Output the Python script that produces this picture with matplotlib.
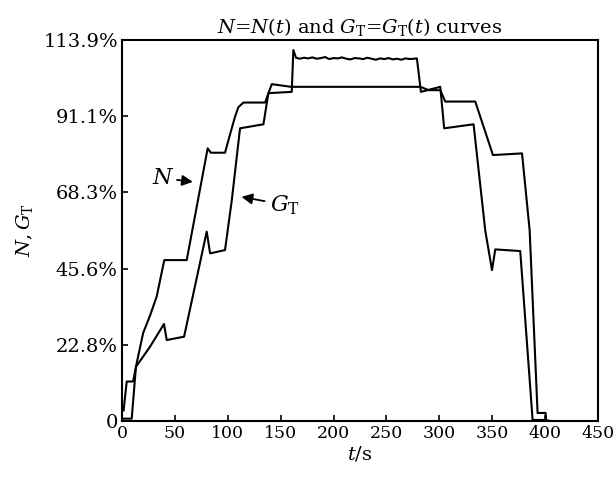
import numpy as np
import matplotlib.pyplot as plt

plt.rcParams["font.family"] = ["DejaVu Serif"]
plt.rcParams["mathtext.fontset"] = "dejavuserif"

# ============================================
# DATA
# ============================================
# N = N(t), rotor speed in %
t_N = [0, 1.5, 4.5, 10.5, 13.9, 20, 26.5, 32.8, 40, 61.2, 81, 84, 97.4, 102,
       106.9, 110, 114.8, 135.3, 141.6, 160, 200, 250, 282, 290, 300.9,
       305.6, 334, 350.7, 378.2, 385.4, 392.9, 400.5, 401, 405]
N = [3.1, 3.1, 11.8, 11.8, 17.3, 26.3, 31.5, 37.2, 48.1, 48.1, 81.5, 80.2,
     80.2, 85.5, 91.0, 93.8, 95.2, 95.2, 100.7, 99.9, 99.9, 99.9, 99.9,
     98.9, 98.9, 95.5, 95.5, 79.5, 80.0, 57.0, 2.4, 2.4, 0.0, 0.0]

# G_T = G_T(t), fuel flow in %
t_G = [0, 9.2, 13.2, 26.5, 39.7, 42.3, 58.7, 80.1, 83.3, 97.4, 103.8, 111.6,
       133.7, 138.4, 160.5, 162.0, 164.5,
       168, 172, 176, 180, 184, 188, 192, 196, 200, 204, 208, 212, 216, 220,
       224, 228, 232, 236, 240, 244, 248, 252, 256, 260, 264, 268, 272, 276,
       278.8, 282.6, 300.9, 304.6, 332.4, 343.4, 349.8, 352.9, 376.5, 388.2,
       400.2, 405]
G = [0.7, 0.7, 16.2, 22.2, 29.0, 24.2, 25.2, 56.6, 50.1, 51.1, 66.0, 87.5,
     88.7, 98.0, 98.4, 110.9, 108.6,
     108.3, 108.6, 108.4, 108.7, 108.3, 108.5, 108.8, 108.2, 108.5, 108.4,
     108.7, 108.3, 108.1, 108.5, 108.4, 108.2, 108.6, 108.3, 108.0, 108.4,
     108.2, 108.5, 108.1, 108.3, 108.0, 108.4, 108.2, 108.3,
     108.4, 98.4, 99.9, 87.5, 88.7, 57.0, 45.1, 51.3, 50.8, 0.3, 0.3, 0.0]

x_ticks = [0, 50, 100, 150, 200, 250, 300, 350, 400, 450]
y_ticks = [0, 22.78, 45.56, 68.34, 91.12, 113.9]
y_tick_labels = ["0", "22.8%", "45.6%", "68.3%", "91.1%", "113.9%"]

# ============================================
# PLOT
# ============================================
fig = plt.figure(figsize=(6.13, 4.82), dpi=100)
ax = fig.add_axes([0.199, 0.1266, 0.7765, 0.7904])

ax.plot(t_N, N, color="black", lw=1.5)
ax.plot(t_G, G, color="black", lw=1.5)

ax.set_xlim(0, 450)
ax.set_ylim(0, 113.9)
ax.set_xticks(x_ticks)
ax.set_yticks(y_ticks)
ax.set_yticklabels(y_tick_labels)
ax.tick_params(direction="in", length=4, width=1.2, pad=3)
ax.tick_params(axis="x", labelsize=12.5)
ax.tick_params(axis="y", labelsize=14)
for s in ax.spines.values():
    s.set_linewidth(1.5)

ax.set_title(r"$N$=$N(t)$ and $G_\mathrm{T}$=$G_\mathrm{T}(t)$ curves",
             fontsize=14, pad=5)
ax.set_xlabel(r"$t$/s", fontsize=14, labelpad=2)
ax.set_ylabel(r"$N, G_\mathrm{T}$", fontsize=14, labelpad=6)

# arrow labels
ax.annotate(r"$N$", xy=(67, 71.5), xytext=(28, 72.6), fontsize=16,
            va="center", ha="left",
            arrowprops=dict(arrowstyle="-|>", color="black", lw=1.3,
                            shrinkA=0, shrinkB=0))
ax.annotate(r"$G_\mathrm{T}$", xy=(113, 67), xytext=(140, 64.6),
            fontsize=16, va="center", ha="left",
            arrowprops=dict(arrowstyle="-|>", color="black", lw=1.3,
                            shrinkA=2, shrinkB=0))

fig.savefig("out.png", dpi=100)
